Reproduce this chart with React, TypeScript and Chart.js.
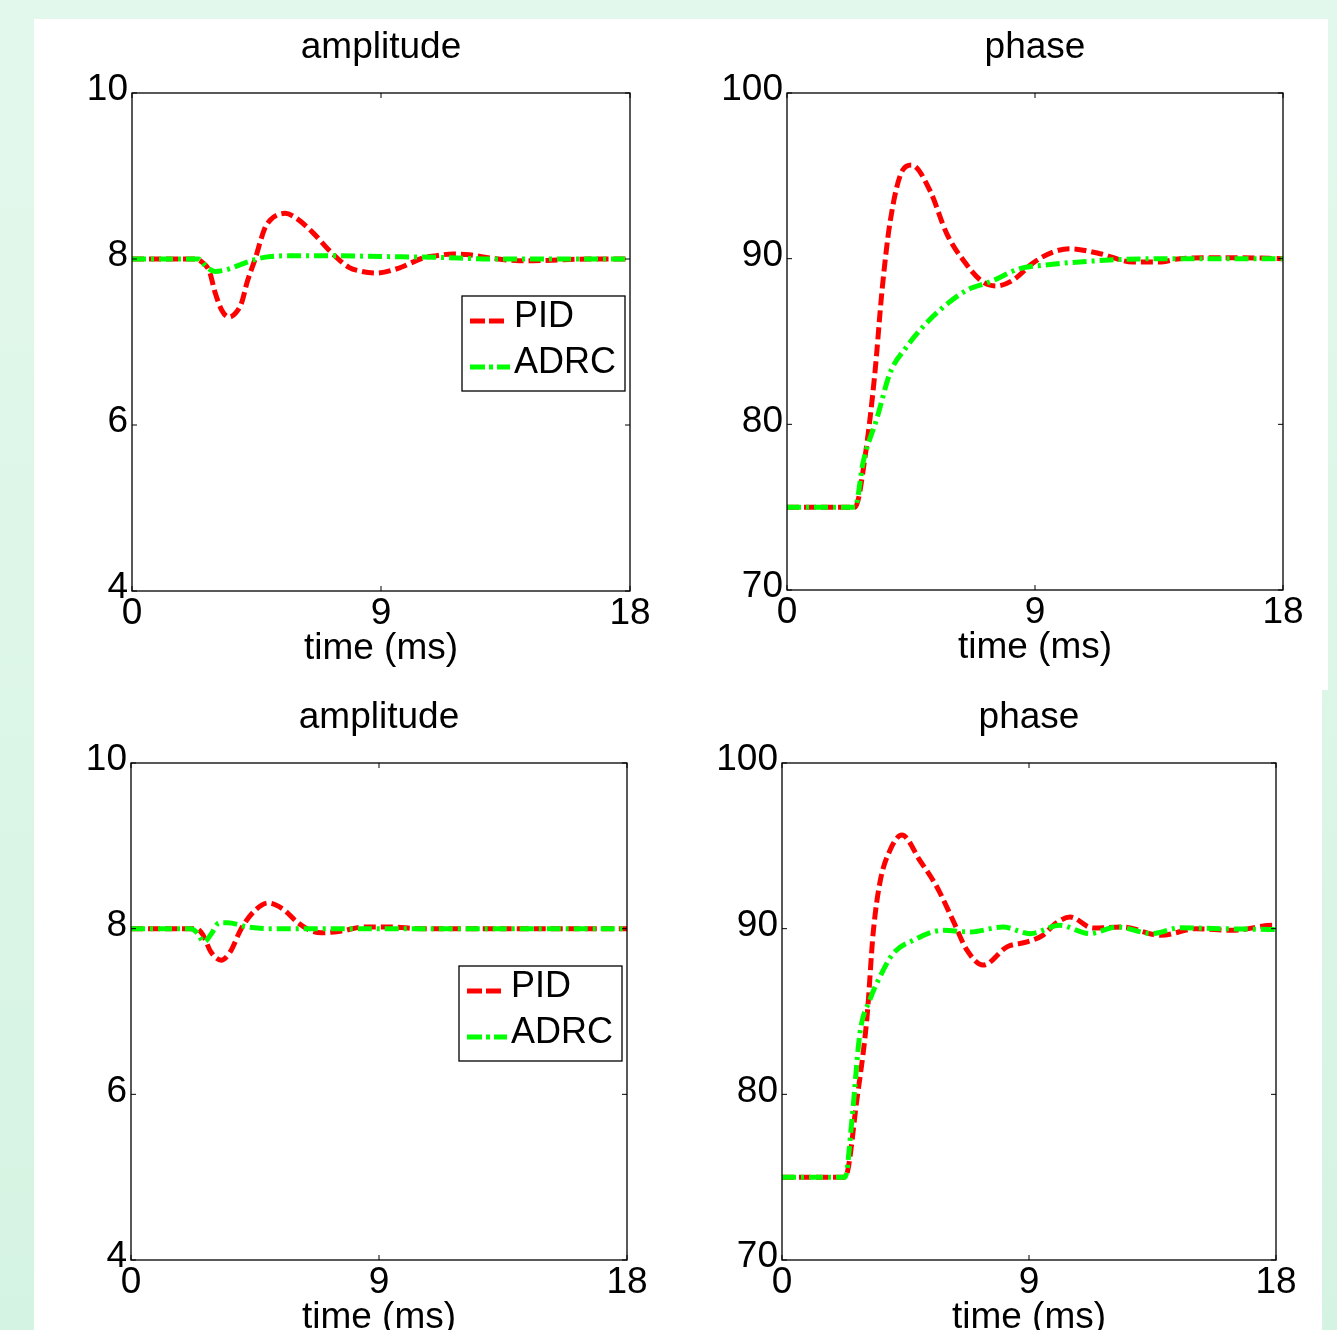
import React, { useEffect, useRef } from "react";
import { Chart, registerables } from "chart.js";

Chart.register(...registerables);

const FONT = "'Liberation Sans', Arial, Helvetica, sans-serif";

// ---- Data ----
const X_TICKS = [0, 9, 18];
const AMP_TICKS = [4, 6, 8, 10];
const PHASE_TICKS = [70, 80, 90, 100];
const SERIES_NAMES = ["PID", "ADRC"];
const TITLES = ["amplitude", "phase", "amplitude", "phase"];
const X_TITLE = "time (ms)";

// Top-left: amplitude (case 1)
const T_PID_A1 = [0, 2.3, 2.5, 2.8, 3.0, 3.25, 3.5, 3.75, 3.97, 4.16, 4.45, 4.8, 5.0, 5.25, 5.53, 5.9, 6.5, 7.23, 7.84, 8.3, 8.8, 9.65, 10.5, 11.0, 11.6, 12.2, 13.0, 14.0, 14.5, 15.5, 16.5, 18];
const PID_A1 = [8.0, 8.0, 7.97, 7.85, 7.6, 7.38, 7.3, 7.35, 7.48, 7.72, 8.0, 8.37, 8.47, 8.53, 8.55, 8.5, 8.33, 8.07, 7.9, 7.85, 7.83, 7.89, 8.01, 8.04, 8.06, 8.05, 8.01, 7.98, 7.98, 7.99, 8.0, 8.0];
const T_ADRC_A1 = [0, 2.4, 2.7, 3.0, 3.4, 3.9, 4.4, 5.0, 6.0, 7.0, 9.0, 11, 13, 18];
const ADRC_A1 = [8, 8, 7.9, 7.85, 7.87, 7.93, 7.99, 8.03, 8.04, 8.04, 8.03, 8.02, 8.0, 8.0];

// Top-right: phase (case 1)
const T_PID_P1 = [0, 2.47, 2.83, 3.19, 3.45, 3.74, 4.2, 4.53, 5.19, 5.8, 6.4, 7.1, 7.6, 8.2, 8.93, 9.65, 10.27, 11.36, 12.55, 13.5, 14.26, 15.5, 16.5, 18];
const PID_P1 = [75, 75, 78.0, 83.1, 88.1, 92.2, 95.35, 95.65, 94.1, 91.5, 89.9, 88.6, 88.35, 88.7, 89.74, 90.4, 90.6, 90.3, 89.8, 89.8, 90.0, 90.05, 90.05, 90.0];
const T_ADRC_P1 = [0, 2.47, 2.76, 3.27, 3.74, 4.35, 4.83, 5.55, 6.53, 7.37, 8.45, 9.3, 11.1, 13.5, 18];
const ADRC_P1 = [75, 75, 77.7, 80.4, 83.1, 84.7, 85.7, 86.9, 88.1, 88.6, 89.4, 89.6, 89.86, 90.0, 90.0];

// Bottom-left: amplitude (case 2)
const T_PID_A2 = [0, 2.36, 2.6, 2.9, 3.27, 3.6, 4.0, 4.5, 4.97, 5.5, 6.06, 6.5, 6.9, 7.6, 8.45, 9.4, 10.5, 18];
const PID_A2 = [8, 8, 7.93, 7.72, 7.62, 7.72, 8.0, 8.22, 8.31, 8.24, 8.07, 7.98, 7.95, 7.97, 8.02, 8.02, 8.0, 8.0];
const T_ADRC_A2 = [0, 2.18, 2.4, 2.65, 2.9, 3.2, 3.5, 4.25, 5.0, 18];
const ADRC_A2 = [8, 8, 7.95, 7.84, 7.93, 8.07, 8.07, 8.02, 8.0, 8.0];

// Bottom-right: phase (case 2)
const T_PID_P2 = [0, 2.3, 2.73, 3.1, 3.32, 3.57, 3.94, 4.37, 5.03, 5.65, 6.23, 6.74, 7.33, 8.2, 8.93, 9.5, 10.0, 10.5, 11.33, 12.4, 13.8, 15.1, 16.4, 17.9, 18];
const PID_P2 = [75, 75, 79.7, 84.7, 89.7, 92.8, 94.75, 95.65, 94.1, 92.5, 90.5, 88.7, 87.8, 88.9, 89.2, 89.6, 90.35, 90.7, 90.04, 90.1, 89.6, 90.0, 89.9, 90.2, 90.2];
const T_ADRC_P2 = [0, 2.3, 2.55, 2.84, 3.2, 3.57, 4.05, 4.78, 5.87, 6.85, 8.05, 9.04, 10.13, 11.2, 12.2, 13.5, 14.5, 16, 18];
const ADRC_P2 = [75, 75, 78.5, 83.7, 85.7, 87.1, 88.5, 89.3, 89.9, 89.8, 90.1, 89.7, 90.2, 89.7, 90.1, 89.7, 90.05, 90.0, 89.95];

// ---- Layout constants ----
const Y_AXIS_W = 98;
const TITLE_H = 74;
const X_AXIS_H = 87;
const RIGHT_W = 98; // dummy right axis, symmetric so the title centres over the plot area
const FONT_SIZE = 37;

const RED = "#ff0000";
const GREEN = "#00ff00";

const boxPlugin = {
  id: "matlabBox",
  afterDraw(chart: any) {
    const { ctx, chartArea, scales } = chart;
    const { left, right, top, bottom } = chartArea;
    ctx.save();
    ctx.strokeStyle = "#000";
    ctx.lineWidth = 1.3;
    ctx.setLineDash([]);
    ctx.strokeRect(left, top, right - left, bottom - top);
    ctx.lineWidth = 1;
    const tl = 5;
    scales.x.ticks.forEach((t: any) => {
      const px = scales.x.getPixelForValue(t.value);
      ctx.beginPath();
      ctx.moveTo(px, bottom);
      ctx.lineTo(px, bottom - tl);
      ctx.moveTo(px, top);
      ctx.lineTo(px, top + tl);
      ctx.stroke();
    });
    scales.y.ticks.forEach((t: any) => {
      const py = scales.y.getPixelForValue(t.value);
      ctx.beginPath();
      ctx.moveTo(left, py);
      ctx.lineTo(left + tl, py);
      ctx.moveTo(right, py);
      ctx.lineTo(right - tl, py);
      ctx.stroke();
    });
    ctx.restore();
  },
};

const legendPlugin = {
  id: "insideLegend",
  afterDraw(chart: any) {
    const opts = chart.options.plugins.insideLegend;
    if (!opts || !opts.show) return;
    const { ctx, chartArea } = chart;
    const bw = 163;
    const bh = 95;
    const bx = chartArea.right - 168;
    const by = chartArea.top + 203;
    ctx.save();
    ctx.fillStyle = "#fff";
    ctx.fillRect(bx, by, bw, bh);
    ctx.strokeStyle = "#000";
    ctx.lineWidth = 1.3;
    ctx.setLineDash([]);
    ctx.strokeRect(bx, by, bw, bh);
    const ds = chart.data.datasets;
    const rows = [
      { d: ds[0], dash: [15, 4], end: 42, y: by + 25 },
      { d: ds[1], dash: [15, 4, 4, 4], end: 48, y: by + 71 },
    ];
    rows.forEach((r) => {
      ctx.strokeStyle = r.d.borderColor;
      ctx.lineWidth = 5;
      ctx.setLineDash(r.dash);
      ctx.beginPath();
      ctx.moveTo(bx + 8, r.y);
      ctx.lineTo(bx + r.end, r.y);
      ctx.stroke();
      ctx.setLineDash([]);
      ctx.fillStyle = "#000";
      ctx.font = `36px ${FONT}`;
      ctx.textBaseline = "middle";
      ctx.textAlign = "left";
      ctx.fillText(r.d.label, bx + 52, r.y - 4);
    });
    ctx.restore();
  },
};

type PanelProps = {
  title: string;
  ticksY: number[];
  pidT: number[];
  pidV: number[];
  adrcT: number[];
  adrcV: number[];
  legend: boolean;
  L: number;
  T: number;
  W: number;
  H: number;
};

function Panel(p: PanelProps) {
  const ref = useRef<HTMLCanvasElement>(null);
  useEffect(() => {
    const font = { family: FONT, size: FONT_SIZE, weight: "normal" as const, lineHeight: 1.2 };
    const chart = new Chart(ref.current as HTMLCanvasElement, {
      type: "line",
      data: {
        datasets: [
          {
            label: SERIES_NAMES[0],
            data: p.pidT.map((t, i) => ({ x: t, y: p.pidV[i] })),
            borderColor: RED,
            borderWidth: 5,
            borderDash: [12, 5],
            borderCapStyle: "butt",
            pointRadius: 0,
            fill: false,
            cubicInterpolationMode: "monotone",
            order: 1,
          },
          {
            label: SERIES_NAMES[1],
            data: p.adrcT.map((t, i) => ({ x: t, y: p.adrcV[i] })),
            borderColor: GREEN,
            borderWidth: 5,
            borderDash: [14, 5, 3, 5],
            borderCapStyle: "butt",
            pointRadius: 0,
            fill: false,
            cubicInterpolationMode: "monotone",
            order: 0,
          },
        ],
      },
      options: {
        responsive: false,
        animation: false,
        events: [],
        layout: { padding: 0 },
        plugins: {
          legend: { display: false },
          tooltip: { enabled: false },
          title: {
            display: true,
            text: p.title,
            color: "#000",
            font,
            padding: { top: 6.8, bottom: 22.8 },
          },
          insideLegend: { show: p.legend },
        } as any,
        scales: {
          x: {
            type: "linear",
            min: X_TICKS[0],
            max: X_TICKS[X_TICKS.length - 1],
            afterBuildTicks: (s: any) => {
              s.ticks = X_TICKS.map((v) => ({ value: v }));
            },
            afterFit: (s: any) => {
              s.height = X_AXIS_H;
            },
            grid: { display: false, drawTicks: false },
            border: { display: false },
            ticks: {
              color: "#000",
              font,
              padding: 1,
              maxRotation: 0,
              autoSkip: false,
            },
            title: {
              display: true,
              text: X_TITLE,
              color: "#000",
              font,
              padding: { top: 0, bottom: 7 },
            },
          },
          y: {
            type: "linear",
            position: "left",
            min: p.ticksY[0],
            max: p.ticksY[p.ticksY.length - 1],
            afterBuildTicks: (s: any) => {
              s.ticks = p.ticksY.map((v) => ({ value: v }));
            },
            afterFit: (s: any) => {
              s.width = Y_AXIS_W;
            },
            grid: { display: false, drawTicks: false },
            border: { display: false },
            ticks: {
              color: "#000",
              font,
              padding: 4,
              labelOffset: -3,
              autoSkip: false,
            },
          },
          yRight: {
            type: "linear",
            position: "right",
            min: p.ticksY[0],
            max: p.ticksY[p.ticksY.length - 1],
            afterFit: (s: any) => {
              s.width = RIGHT_W;
            },
            grid: { display: false, drawTicks: false },
            border: { display: false },
            ticks: { display: false },
          },
        },
      },
      plugins: [boxPlugin, legendPlugin],
    } as any);
    return () => chart.destroy();
  }, []);
  const w = p.W + Y_AXIS_W + RIGHT_W;
  const h = p.H + TITLE_H + X_AXIS_H;
  return (
    <canvas
      ref={ref}
      width={w}
      height={h}
      style={{ position: "absolute", left: p.L - Y_AXIS_W, top: p.T - TITLE_H, width: w, height: h }}
    />
  );
}

export default function App() {
  return (
    <div
      style={{
        position: "absolute",
        left: 0,
        top: 0,
        width: 1337,
        height: 1330,
        overflow: "hidden",
        background: "linear-gradient(#e3f8ec, #d5f3e2)",
      }}
    >
      <div style={{ position: "absolute", left: 34, top: 19, width: 1294, height: 671, background: "#fff" }} />
      <div style={{ position: "absolute", left: 34, top: 690, width: 1288, height: 640, background: "#fff" }} />
      <Panel title={TITLES[0]} ticksY={AMP_TICKS} pidT={T_PID_A1} pidV={PID_A1} adrcT={T_ADRC_A1} adrcV={ADRC_A1} legend={true} L={132} T={93} W={498} H={498} />
      <Panel title={TITLES[1]} ticksY={PHASE_TICKS} pidT={T_PID_P1} pidV={PID_P1} adrcT={T_ADRC_P1} adrcV={ADRC_P1} legend={false} L={787} T={93} W={496} H={497} />
      <Panel title={TITLES[2]} ticksY={AMP_TICKS} pidT={T_PID_A2} pidV={PID_A2} adrcT={T_ADRC_A2} adrcV={ADRC_A2} legend={true} L={131} T={763} W={496} H={497} />
      <Panel title={TITLES[3]} ticksY={PHASE_TICKS} pidT={T_PID_P2} pidV={PID_P2} adrcT={T_ADRC_P2} adrcV={ADRC_P2} legend={false} L={782} T={763} W={494} H={497} />
    </div>
  );
}
